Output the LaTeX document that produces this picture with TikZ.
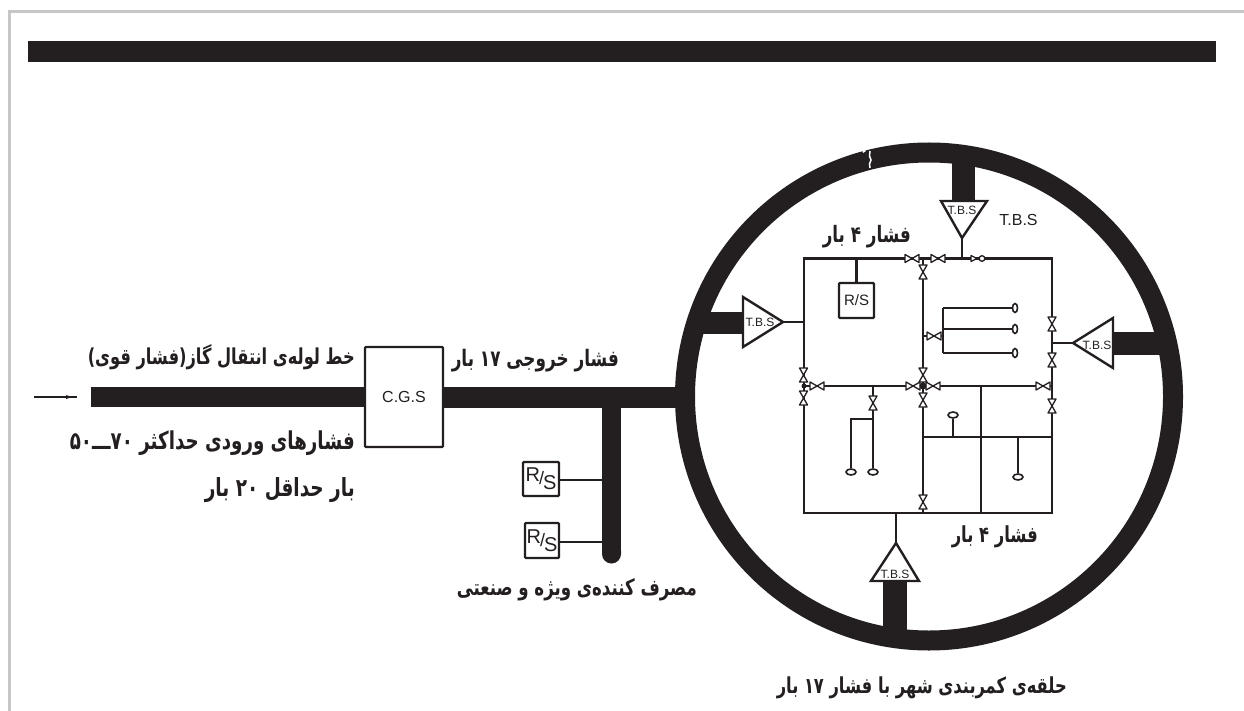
\documentclass[tikz,border=0pt]{standalone}
\usepackage{fontspec}
\usepackage{graphicx}
\usetikzlibrary{shapes.geometric}
\TeXXeTstate=1
\setmainfont{Liberation Sans}
\newfontfamily\arabicfont[Script=Arabic]{DejaVu Sans}
\definecolor{ink}{HTML}{231F20}
\definecolor{framegray}{HTML}{C6C6C8}
\newcommand{\fatext}[2]{\resizebox{#1pt}{!}{\scalebox{1}[1.35]{\arabicfont\bfseries #2}}}
\tikzset{
  x=1pt,y=-1pt,
  pipe/.style={line width=#1,draw=ink,line cap=butt},
  pipe/.default=21pt,
  net/.style={line width=2.5pt,draw=ink,line cap=square},
  tri/.style={line width=2.4pt,draw=ink,fill=white,line join=miter},
  boxy/.style={draw=ink,line width=2.4pt,fill=white,inner sep=0pt,rounded corners=1pt,font=\fontsize{15}{15}\selectfont,text=ink},
  tbs/.style={inner sep=0pt,font=\fontsize{12}{12}\selectfont,text=ink},
  fa/.style={inner sep=0pt,text=ink},
  capend/.style={ellipse,draw=ink,line width=1.6pt,fill=white,inner sep=0pt,minimum width=10pt,minimum height=6pt},
  capendv/.style={ellipse,draw=ink,line width=1.6pt,fill=white,inner sep=0pt,minimum width=5pt,minimum height=9pt},
  valve/.pic={
    \draw[draw=ink,line width=1.3pt,fill=white,line join=round] (-7,-4)--(0,0)--(-7,4)--cycle;
    \draw[draw=ink,line width=1.3pt,fill=white,line join=round] (7,-4)--(0,0)--(7,4)--cycle;
  },
  valvesmall/.pic={
    \draw[draw=ink,line width=1.3pt,fill=white,line join=round] (-6,-3)--(0,0)--(-6,3)--cycle;
    \draw[draw=ink,line width=1.3pt,fill=white] (5,0) circle (2.8);
  },
}
\begin{document}
\begin{tikzpicture}
\useasboundingbox (0,0) rectangle (1244,711);
\fill[white] (0,0) rectangle (1244,711);
% frame
\coordinate (fa) at (9.7,711); \coordinate (fb) at (9.7,11.5); \coordinate (fc) at (1244,11.5);
\draw[framegray,line width=2.8pt] (fa) -- (fb) -- (fc);
% top bar
\coordinate (ba) at (28,51.5); \coordinate (bb) at (1216,51.5);
\draw[pipe=21pt] (ba) -- (bb);
% ring
\node[circle,draw=ink,line width=20pt,minimum size=488pt,inner sep=0pt] (ring) at (929,396.5) {};
\draw[white,line width=1.5pt] (870,151)--(869.5,156)--(871,160)--(869.5,164)--(870,168);
\fill[white] (862,149)--(866,151)--(863,153)--cycle;
% gas line
\node[boxy,minimum width=78pt,minimum height=100pt,font=\fontsize{16}{16}\selectfont] (cgs) at (404,397) {C.G.S};
\coordinate (inA) at (34,397); \coordinate (inB) at (77,397);
\draw[ink,line width=1.5pt] (inA) -- (inB);
\fill[ink] (66,395)--(72,397)--(66,399)--cycle;
\coordinate (hpA) at (91,397); 
\draw[pipe=20pt] (hpA) -- (cgs.west);
\coordinate (ringL) at (685,397.5);
\draw[pipe=21pt] (cgs.east |- ringL) -- (ringL);
\coordinate (brTop) at (611.5,395); \coordinate (brEnd) at (611.5,551);
\draw[pipe=19pt] (brTop) -- (brEnd);
\fill[ink] (brEnd) ++(-9.5,0) -- ++(19,0) -- ++(0,3) arc[start angle=0,end angle=180,radius=9.5] -- cycle;
\node[boxy,minimum width=36pt,minimum height=34pt,font=\fontsize{20}{20}\selectfont] (rs1) at (541,479) {\raisebox{3pt}{R}\kern-1pt{\fontsize{18}{18}\selectfont/}\kern-1pt\raisebox{-5pt}{S}};
\node[boxy,minimum width=34pt,minimum height=35pt,font=\fontsize{20}{20}\selectfont] (rs2) at (542,540.5) {\raisebox{3pt}{R}\kern-1pt{\fontsize{18}{18}\selectfont/}\kern-1pt\raisebox{-5pt}{S}};
\coordinate (j1) at (602,480); \coordinate (j2) at (602,542);
\draw[net] (rs1.east |- j1) -- (j1);
\draw[net] (rs2.east |- j2) -- (j2);
% stubs
\coordinate (sT1) at (963.5,152); \coordinate (sT2) at (963.5,201);
\draw[pipe=23pt] (sT1) -- (sT2);
\coordinate (sL1) at (695,323); \coordinate (sL2) at (743,323);
\draw[pipe=22pt] (sL1) -- (sL2);
\coordinate (sR1) at (1165,343.5); \coordinate (sR2) at (1113,343.5);
\draw[pipe=23pt] (sR1) -- (sR2);
\coordinate (sB1) at (895,641); \coordinate (sB2) at (895,581);
\draw[pipe=24pt] (sB1) -- (sB2);
% triangles
\coordinate (tipT) at (962,238); \coordinate (tipL) at (783,322); \coordinate (tipR) at (1073,343); \coordinate (tipB) at (896,543);
\draw[tri] (941,201)--(987,201)--(tipT)--cycle;
\draw[tri] (743,297)--(743,347)--(tipL)--cycle;
\draw[tri] (1113,318)--(1113,368)--(tipR)--cycle;
\draw[tri] (871,581)--(919,581)--(tipB)--cycle;
\node[tbs] (tbsT) at (962,210) {T.B.S};
\node[tbs] (tbsL) at (760,322) {T.B.S};
\node[tbs] (tbsR) at (1097,345) {T.B.S};
\node[tbs] (tbsB) at (895,574) {T.B.S};
\node[inner sep=0pt,font=\fontsize{16}{16}\selectfont,text=ink] (tbsFree) at (1018.5,220) {T.B.S};
% network corners and junctions
\coordinate (nTL) at (804,258.5); \coordinate (nTR) at (1052,258.5);
\coordinate (nBL) at (804,513); \coordinate (nBR) at (1052,513);
\coordinate (nTM) at (923,258.5); \coordinate (nBM) at (923,513);
\coordinate (nML) at (804,386); \coordinate (nMR) at (1052,386);
\coordinate (nTT) at (962,258.5); \coordinate (nLL) at (804,322); \coordinate (nRR) at (1052,343); \coordinate (nBB) at (896,513);
\draw[net] (nTL) -- (nTR) -- (nBR) -- (nBL) -- cycle;
\draw[net] (nTM) -- (nBM);
\draw[net] (nML) -- (nMR);
\draw[net] (tipT) -- (nTT);
\draw[net] (tipL) -- (nLL);
\draw[net] (tipR) -- (nRR);
\draw[net] (tipB) -- (nBB);
% inner R/S
\node[boxy,minimum width=35pt,minimum height=35pt] (rs3) at (856.5,300.5) {R/S};
\coordinate (nRS) at (856.5,258.5);
\draw[net] (nRS) -- (rs3.north);
% E-shape
\coordinate (e0) at (923,336); \coordinate (e1) at (943,336);
\coordinate (ea) at (943,308); \coordinate (eb) at (943,329); \coordinate (ec) at (943,353);
\node[capendv] (ca) at (1015,308) {};
\node[capendv] (cb) at (1015,329) {};
\node[capendv] (cc) at (1015,353) {};
\draw[net] (e0) -- (e1);
\draw[net] (ea) -- (ec);
\draw[net] (ea) -- (ca);
\draw[net] (eb) -- (cb);
\draw[net] (ec) -- (cc);
% lower left branches
\coordinate (l0) at (873,386); \coordinate (l1) at (873,419); \coordinate (l2) at (851,419);
\node[capend] (cd) at (873,472) {};
\node[capend] (ce) at (851,472) {};
\draw[net] (l0) -- (cd);
\draw[net] (l1) -- (l2) -- (ce);
% lower right branches
\coordinate (r0) at (981,386); \coordinate (r1) at (981,513);
\coordinate (m0) at (923,437); \coordinate (m1) at (1052,437);
\coordinate (m2) at (953,437); \coordinate (m3) at (1018,437);
\node[capend] (cf) at (953,415) {};
\node[capend] (cg) at (1018,477) {};
\draw[net] (r0) -- (r1);
\draw[net] (m0) -- (m1);
\draw[net] (m2) -- (cf);
\draw[net] (m3) -- (cg);
% valves
\foreach \p in {(912,258.5),(938,258.5),(934,336),(817,386),(913,386),(933,386),(1043,386)}
  \pic at \p {valve};
\pic at (977,258.5) {valvesmall};
\foreach \p in {(923,272),(803.5,375),(803.5,398),(923,375),(923,400),(923,502),(873,403),(1052,324),(1052,360),(1052,406)}
  \pic[rotate=90] at \p {valve};
\fill[ink] (923,386) circle (3.5);
\fill[ink] (804,386) circle (2.5);
% Persian labels
\node[fa,anchor=east] (t1) at (355,357) {\fatext{267}{\beginR خط لوله‌ی انتقال گاز(فشار قوی)\endR}};
\node[fa,anchor=east] (t2) at (355,443) {\fatext{285}{\beginR فشارهای ورودی حداکثر ۷۰ـــ۵۰\endR}};
\node[fa,anchor=east] (t3) at (355,490) {\fatext{150}{\beginR بار حداقل ۲۰ بار\endR}};
\node[fa,anchor=east] (t4) at (619,361) {\fatext{167}{\beginR فشار خروجی \beginL ۱۷\endL{} بار\endR}};
\node[fa,anchor=east] (t5) at (697,590) {\fatext{240}{\beginR مصرف کننده‌ی ویژه و صنعتی\endR}};
\node[fa,anchor=east] (t6) at (911,237) {\fatext{88}{\beginR فشار ۴ بار\endR}};
\node[fa,anchor=east] (t7) at (1038,537) {\fatext{86}{\beginR فشار ۴ بار\endR}};
\node[fa,anchor=east] (t8) at (1067,688) {\fatext{290}{\beginR حلقه‌ی کمربندی شهر با فشار \beginL ۱۷\endL{} بار\endR}};
\end{tikzpicture}
\end{document}
